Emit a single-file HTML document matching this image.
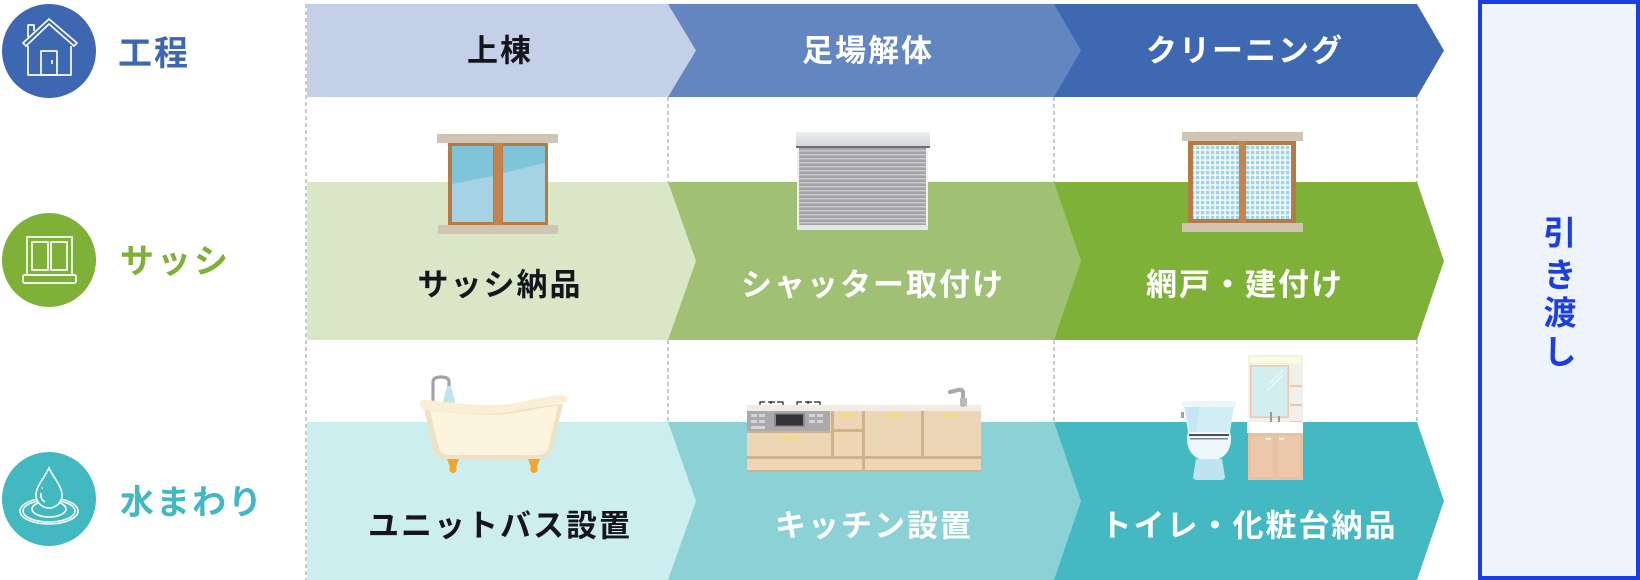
<!DOCTYPE html>
<html><head><meta charset="utf-8"><style>
html,body{margin:0;padding:0;background:#fff;}
svg{display:block;}
text{font-family:"Liberation Sans","Noto Sans CJK JP",sans-serif;font-weight:bold;}
</style></head><body>
<svg width="1640" height="580" viewBox="0 0 1640 580" xmlns="http://www.w3.org/2000/svg">
<defs>
<pattern id="net" x="0" y="0" width="5" height="5" patternUnits="userSpaceOnUse">
<rect width="5" height="5" fill="#ffffff"/>
<rect x="0.8" y="0.8" width="3.6" height="3.6" fill="#9fd3e6"/>
</pattern>
<linearGradient id="glassL" x1="0" y1="0" x2="0" y2="1">
<stop offset="0" stop-color="#7fc4d9"/><stop offset="1" stop-color="#a6d4e4"/></linearGradient>
<linearGradient id="shBox" x1="0" y1="0" x2="0" y2="1">
<stop offset="0" stop-color="#eceef2"/><stop offset="1" stop-color="#cdd2da"/></linearGradient>
</defs>

<!-- Top row -->
<polygon points="1054,4 1417,4 1444,50.5 1417,97 1054,97" fill="#3e68b0"/>
<polygon points="668,4 1054,4 1081,50.5 1054,97 668,97" fill="#6486c0"/>
<polygon points="307,4 668,4 696,50.5 668,97 307,97" fill="#c4d0e7"/>

<!-- Sash row -->
<polygon points="1054,182 1417,182 1444,261 1417,340 1054,340" fill="#7fb138"/>
<polygon points="668,182 1054,182 1081,261 1054,340 668,340" fill="#a0c174"/>
<polygon points="307,182 668,182 696,261 668,340 307,340" fill="#d9e7c6"/>

<!-- Water row -->
<polygon points="1054,422 1417,422 1444,501 1417,580 1054,580" fill="#45b9c1"/>
<polygon points="668,422 1054,422 1081,501 1054,580 668,580" fill="#8cd1d6"/>
<polygon points="307,422 668,422 696,501 668,580 307,580" fill="#cdeeef"/>

<!-- dashed lines -->
<g stroke="#bdbdbd" stroke-width="1.6" stroke-dasharray="4 3" fill="none">
<line x1="306" y1="4" x2="306" y2="580"/>
<line x1="668" y1="97" x2="668" y2="182"/>
<line x1="1054" y1="97" x2="1054" y2="182"/>
<line x1="1417" y1="97" x2="1417" y2="182"/>
<line x1="668" y1="340" x2="668" y2="422"/>
<line x1="1054" y1="340" x2="1054" y2="422"/>
<line x1="1417" y1="340" x2="1417" y2="422"/>
</g>

<!-- Right box -->
<rect x="1480" y="2" width="158" height="576" fill="#eef3fd" stroke="#1a3de6" stroke-width="4"/>
<g fill="#1a3de6" font-size="33" text-anchor="middle" dominant-baseline="central">
<text x="1560" y="233">引</text>
<text x="1560" y="275">き</text>
<text x="1560" y="313">渡</text>
<text x="1560" y="352">し</text>
</g>

<!-- Left circles -->
<circle cx="49" cy="51" r="47" fill="#3d67b0"/>
<g stroke="#fff" stroke-width="1.7" fill="none" stroke-linejoin="round">
<path d="M28,37 L28,25 L34,25 L34,31"/>
<polygon points="23,43 49,19 77,43 74,46 49,24 26,46" fill="#3d67b0"/>
<path d="M28,46 L28,75 L71,75 L71,46"/>
<rect x="41" y="51" width="16" height="24"/>
<line x1="52" y1="60" x2="52" y2="64"/>
</g>

<circle cx="49" cy="260" r="47" fill="#7fb037"/>
<g stroke="#fff" stroke-width="1.7" fill="none">
<rect x="27" y="237" width="45" height="38"/>
<rect x="32" y="242" width="16" height="28"/>
<rect x="51" y="242" width="16" height="28"/>
<rect x="23" y="275" width="53" height="8" rx="1.5"/>
</g>

<circle cx="49" cy="499" r="47" fill="#42b8c0"/>
<g stroke="#fff" stroke-width="1.6" fill="none">
<ellipse cx="49" cy="511" rx="29" ry="13"/>
<ellipse cx="49" cy="511" rx="26" ry="11"/>
<ellipse cx="49" cy="509" rx="17" ry="8"/>
<path d="M49,468 C45,477 36,486 36,495 A13,13 0 0 0 62,495 C62,486 53,477 49,468 Z" fill="#42b8c0"/>
<path d="M41,493 A8,8 0 0 0 45,502"/>
<line x1="42" y1="489" x2="42.5" y2="487.5"/>
</g>

<!-- Left labels -->
<text x="118" y="54" font-size="34" fill="#3d67b0" letter-spacing="2" dominant-baseline="central">工程</text>
<text x="120" y="262" font-size="34" fill="#7fb037" letter-spacing="3" dominant-baseline="central">サッシ</text>
<text x="120" y="503" font-size="34" fill="#42b8c0" letter-spacing="2" dominant-baseline="central">水まわり</text>

<!-- Segment labels -->
<g font-size="31" letter-spacing="2" text-anchor="middle" dominant-baseline="central">
<text x="500" y="51" fill="#15151c">上棟</text>
<text x="868" y="51" fill="#fff">足場解体</text>
<text x="1245" y="51" fill="#fff">クリーニング</text>
<text x="500" y="285" fill="#15151c">サッシ納品</text>
<text x="873" y="285" fill="#fff">シャッター取付け</text>
<text x="1245" y="285" fill="#fff">網戸・建付け</text>
<text x="500" y="526" fill="#15151c">ユニットバス設置</text>
<text x="874" y="526" fill="#fff">キッチン設置</text>
<text x="1249" y="526" fill="#fff">トイレ・化粧台納品</text>
</g>

<!-- Window (sash) -->
<rect x="437" y="134" width="121" height="9" fill="#d0c4b4"/>
<rect x="448" y="143" width="100" height="82" fill="#b67a44"/>
<rect x="452" y="146" width="41" height="76" fill="#a5d3e4"/>
<rect x="503" y="146" width="42" height="76" fill="#a5d3e4"/>
<polygon points="452,146 493,146 493,176 452,184" fill="#7fc4d8"/>
<polygon points="503,146 545,146 545,163 503,173" fill="#7fc4d8"/>
<rect x="494" y="143" width="8" height="82" fill="#c4834c"/>
<rect x="438" y="225" width="120" height="9" fill="#d0c4b4"/>

<!-- Shutter -->
<rect x="796" y="132" width="134" height="16" fill="url(#shBox)"/>
<rect x="796" y="146" width="134" height="2" fill="#6e6c70"/>
<rect x="797" y="148" width="131" height="82" fill="#a5a5a8"/>
<g fill="#c9c9cb">
<rect x="799" y="150" width="127" height="1.5"/><rect x="799" y="154" width="127" height="1.5"/>
<rect x="799" y="158" width="127" height="1.5"/><rect x="799" y="162" width="127" height="1.5"/>
<rect x="799" y="166" width="127" height="1.5"/><rect x="799" y="170" width="127" height="1.5"/>
<rect x="799" y="174" width="127" height="1.5"/><rect x="799" y="178" width="127" height="1.5"/>
<rect x="799" y="182" width="127" height="1.5"/><rect x="799" y="186" width="127" height="1.5"/>
<rect x="799" y="190" width="127" height="1.5"/><rect x="799" y="194" width="127" height="1.5"/>
<rect x="799" y="198" width="127" height="1.5"/><rect x="799" y="202" width="127" height="1.5"/>
<rect x="799" y="206" width="127" height="1.5"/><rect x="799" y="210" width="127" height="1.5"/>
<rect x="799" y="214" width="127" height="1.5"/><rect x="799" y="218" width="127" height="1.5"/>
<rect x="799" y="222" width="127" height="1.5"/>
</g>
<rect x="797" y="148" width="2" height="82" fill="#eef0f3"/>
<rect x="926" y="148" width="2" height="82" fill="#eef0f3"/>
<rect x="797" y="225" width="131" height="5" fill="#e3e6eb"/>

<!-- Net window -->
<rect x="1182" y="132" width="121" height="9" fill="#d0c4b4"/>
<rect x="1188" y="141" width="108" height="82" fill="#b57a45"/>
<rect x="1193" y="145" width="46" height="74" fill="url(#net)"/>
<rect x="1246" y="145" width="45" height="74" fill="url(#net)"/>
<rect x="1239" y="141" width="7" height="82" fill="#c5844d"/>
<rect x="1182" y="223" width="121" height="9" fill="#d0c4b4"/>

<!-- Bathtub -->
<path d="M433,408 L433,382 Q433,377 441,377 Q449,377 449,382 L449,386" stroke="#a3a3a6" stroke-width="3.2" fill="none"/>
<polygon points="447,386 451,386 456,406 442,406" fill="#bfe5ee"/>
<path d="M424,409 C470,413 495,416 520,410 C540,406 555,404 563,404 L552,451 Q549,459 539,459 L449,459 Q437,459 434,451 Z" fill="#efe1c3"/>
<path d="M430,411 C470,414 495,417 520,412 C540,408 552,406 558,406 L548,449 Q545,455 537,455 L451,455 Q441,455 439,449 Z" fill="#fdf4dd"/>
<path d="M420,403 Q420,399 426,400 C470,404 492,408 520,402 C545,397 560,394 566,396 Q569,399 566,402 C552,404 540,406 520,410 C495,416 470,414 425,410 Q420,409 420,403 Z" fill="#faefd4"/>
<g fill="#f1a52d">
<path d="M447,459 L459,459 L456,467 Q458,472 453,473 Q448,472 450,467 Z"/>
<path d="M528,459 L540,459 L537,467 Q539,472 534,473 Q529,472 531,467 Z"/>
</g>

<!-- Kitchen -->
<rect x="747" y="405" width="234" height="6" fill="#f3ece4"/>
<rect x="747" y="411" width="234" height="61" fill="#ecd6b6"/>
<rect x="747" y="411" width="83" height="20" fill="#aaaaac"/>
<rect x="774" y="413" width="31" height="14" fill="#8d8d90"/>
<rect x="776" y="414.5" width="27" height="11" fill="#333336"/>
<g fill="#d4d4d6">
<rect x="751" y="414" width="6" height="3"/><rect x="759" y="414" width="6" height="3"/>
<rect x="751" y="420" width="6" height="3"/><rect x="759" y="420" width="6" height="3"/>
<rect x="751" y="426" width="14" height="3"/>
<rect x="809" y="414" width="6" height="3"/><rect x="817" y="414" width="6" height="3"/>
<rect x="809" y="420" width="6" height="3"/><rect x="817" y="420" width="6" height="3"/>
</g>
<g fill="#d2b28c">
<rect x="747" y="456" width="234" height="3"/>
<rect x="831" y="411" width="3" height="47"/>
<rect x="862" y="411" width="3" height="61"/>
<rect x="921" y="411" width="3" height="47"/>
<rect x="834" y="429" width="28" height="3"/>
<rect x="747" y="431" width="84" height="2"/>
<rect x="747" y="470" width="234" height="2"/>
</g>
<g fill="#f2d98e">
<rect x="782" y="436" width="17" height="3"/>
<rect x="840" y="414" width="14" height="3"/>
<rect x="840" y="435" width="14" height="3"/>
<rect x="884" y="414" width="17" height="3"/>
<rect x="943" y="414" width="17" height="3"/>
</g>
<g stroke="#222" stroke-width="1.2" fill="none">
<path d="M760,405 L760,402 L765,402 M768,402 L775,402 M771,401 L771,404 M777,402 L783,402 L783,405"/>
<path d="M797,405 L797,402 L802,402 M805,402 L812,402 M808,401 L808,404 M814,402 L820,402 L820,405"/>
</g>
<path d="M963,405 L963,392 Q962,389 958,390 L950,392" stroke="#a9a9ac" stroke-width="4" fill="none" stroke-linecap="round"/>
<rect x="960" y="398" width="7" height="8" fill="#b9b9bc"/>

<!-- Toilet -->
<rect x="1182" y="401" width="54" height="6" rx="1" fill="#eaf8fc"/>
<path d="M1184,407 L1234,407 L1230,432 L1188,432 Z" fill="#d3edf6"/>
<path d="M1186,407 L1200,407 L1196,432 L1190,432 Z" fill="#c4e5f1"/>
<rect x="1181" y="412" width="3" height="6" fill="#9aa5ab"/>
<path d="M1188,432 L1230,432 Q1232,440 1230,446 Q1226,460 1209,461 Q1192,460 1188,446 Q1186,440 1188,432 Z" fill="#eef8fb"/>
<rect x="1189" y="434" width="40" height="2" fill="#4a4e55"/>
<rect x="1190" y="438" width="38" height="1.5" fill="#7d838a"/>
<path d="M1196,459 L1222,459 L1225,477 Q1225,480 1221,480 L1197,480 Q1193,480 1193,477 Z" fill="#bfe4f0"/>

<!-- Vanity -->
<rect x="1248" y="355" width="55" height="68" rx="2" fill="#f1f0ea"/>
<rect x="1250" y="357" width="51" height="6" fill="#fcfbdc"/>
<rect x="1250" y="365" width="39" height="53" fill="#f0c8a8"/>
<rect x="1251.5" y="366.5" width="36" height="50" fill="#d2eef1"/>
<path d="M1270,383 L1283,370 M1267,391 L1283,375" stroke="#fff" stroke-width="0.8"/>
<g fill="#f0c8a8">
<rect x="1290" y="385" width="12" height="2"/>
<rect x="1290" y="404" width="12" height="2"/>
<rect x="1290" y="421" width="12" height="2"/>
</g>
<rect x="1270" y="412" width="2" height="10" fill="#9a9a9c"/>
<rect x="1278" y="416" width="2" height="6" fill="#9a9a9c"/>
<rect x="1247" y="422" width="56" height="11" fill="#ffffff"/>
<rect x="1248" y="433" width="55" height="47" fill="#eac4a4"/>
<rect x="1250" y="435" width="24" height="43" fill="#ecc8aa" stroke="#e1b896" stroke-width="0.8"/>
<rect x="1277" y="435" width="24" height="43" fill="#ecc8aa" stroke="#e1b896" stroke-width="0.8"/>
<rect x="1266" y="438" width="5" height="1.5" fill="#fff"/>
<rect x="1279" y="438" width="5" height="1.5" fill="#fff"/>
</svg>
</body></html>
